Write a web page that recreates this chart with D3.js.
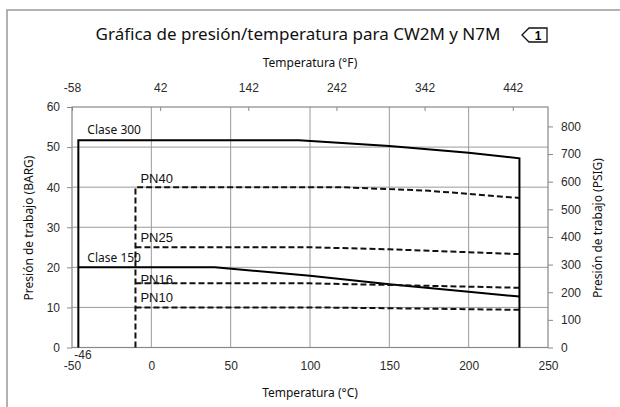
<!DOCTYPE html>
<html>
    <head>
        <meta charset="utf-8">
        <title>CW2M N7M</title>
        <script type="text/javascript" src="https://cdn.jsdelivr.net/npm/d3@7"></script>
        <style>
            body { margin: 0; background: #fff; }
        </style>
    </head>
    <body>
        <script type="text/javascript">
            // tick values
            var celsiusTicks = [-50, 0, 50, 100, 150, 200, 250];
            var fahrenheitTicks = [-58, 42, 142, 242, 342, 442];
            var bargTicks = [0, 10, 20, 30, 40, 50, 60];
            var psigTicks = [0, 100, 200, 300, 400, 500, 600, 700, 800];

            // series: [temp C, pressure barg]
            var clase300 = [[-46, 0], [-46, 51.7], [93, 51.7], [150, 50.3], [200, 48.6], [232, 47.2], [232, 0]];
            var clase150 = [[-46, 20], [40, 20], [100, 17.9], [150, 15.8], [200, 13.9], [232, 12.7]];
            var pn40 = [[-10, 0], [-10, 40], [120, 40], [175, 39.1], [232, 37.3]];
            var pn25 = [[-10, 25], [100, 25], [150, 24.5], [232, 23.3]];
            var pn16 = [[-10, 16], [100, 16], [150, 15.6], [232, 14.9]];
            var pn10 = [[-10, 10], [100, 10], [150, 9.8], [232, 9.4]];

            var W = 620, H = 407;
            var svg = d3.select("body").append("svg").attr("width", W).attr("height", H);
            svg.append("rect").attr("width", W).attr("height", H).attr("fill", "#fff");

            var x = d3.scaleLinear().domain([-50, 250]).range([72, 548]);
            var xF = d3.scaleLinear().domain([-58, 482]).range([72, 548]);
            var y = d3.scaleLinear().domain([0, 60]).range([347.5, 107]);
            var yP = d3.scaleLinear().domain([0, 60 * 14.5038]).range([347.5, 107]);
            var plain = function (d) { return String(d); };  // hyphen minus like the original

            // outer frame
            svg.append("path").attr("d", "M7," + H + " L7,10 L" + W + ",10")
                .attr("fill", "none").attr("stroke", "#999").attr("stroke-width", 1.5);

            // title + note tag
            svg.append("text").attr("x", 298).attr("y", 40).attr("text-anchor", "middle")
                .attr("font-family", "Noto Sans").attr("font-size", 17).attr("fill", "#111")
                .text("Gráfica de presión/temperatura para CW2M y N7M");
            svg.append("path").attr("d", "M522,35 L529,28 L547,28 L547,42 L529,42 Z")
                .attr("fill", "none").attr("stroke", "#111").attr("stroke-width", 1.3);
            svg.append("text").attr("x", 538).attr("y", 40).attr("text-anchor", "middle")
                .attr("font-family", "Liberation Sans").attr("font-weight", "bold").attr("font-size", 12)
                .text("1");

            // grid
            var grid = svg.append("g").attr("stroke", "#9a9a9a").attr("stroke-width", 1);
            grid.selectAll(".gx").data(celsiusTicks.slice(1, -1)).enter().append("line")
                .attr("x1", d => x(d)).attr("x2", d => x(d)).attr("y1", y(0)).attr("y2", y(60));
            grid.selectAll(".gy").data(bargTicks.slice(1, -1)).enter().append("line")
                .attr("x1", x(-50)).attr("x2", x(250)).attr("y1", d => y(d)).attr("y2", d => y(d));
            svg.append("rect").attr("x", x(-50)).attr("y", y(60))
                .attr("width", x(250) - x(-50)).attr("height", y(0) - y(60))
                .attr("fill", "none").attr("stroke", "#888").attr("stroke-width", 1.2);

            var tickFont = function (g) {
                g.select(".domain").remove();
                g.selectAll(".tick line").attr("stroke", "#888");
                g.selectAll(".tick text").attr("font-family", "Liberation Sans").attr("font-size", 12).attr("fill", "#2a2a2a");
            };

            svg.append("g").attr("transform", "translate(0," + y(0) + ")")
                .call(d3.axisBottom(x).tickValues(celsiusTicks).tickFormat(plain).tickSize(0).tickPadding(14))
                .call(tickFont);
            svg.append("g").attr("transform", "translate(0," + y(60) + ")")
                .call(d3.axisTop(xF).tickValues(fahrenheitTicks).tickFormat(plain).tickSizeInner(-4).tickSizeOuter(0).tickPadding(15))
                .call(tickFont);
            svg.append("g").attr("transform", "translate(" + x(-50) + ",0)")
                .call(d3.axisLeft(y).tickValues(bargTicks).tickFormat(plain).tickSize(5).tickPadding(7))
                .call(tickFont);
            svg.append("g").attr("transform", "translate(" + x(250) + ",0)")
                .call(d3.axisRight(yP).tickValues(psigTicks).tickFormat(plain).tickSize(5).tickPadding(8))
                .call(tickFont);

            // axis titles
            var titleFont = function (t) {
                t.attr("font-family", "Noto Sans").attr("font-size", 12).attr("fill", "#111").attr("text-anchor", "middle");
            };
            svg.append("text").attr("x", 310).attr("y", 67).call(titleFont).text("Temperatura (°F)");
            svg.append("text").attr("x", 310).attr("y", 397).call(titleFont).text("Temperatura (°C)");
            svg.append("text").attr("transform", "translate(33,228) rotate(-90)").call(titleFont).text("Presión de trabajo (BARG)");
            svg.append("text").attr("transform", "translate(602,228) rotate(-90)").call(titleFont).text("Presión de trabajo (PSIG)");

            // series lines
            var line = d3.line().x(d => x(d[0])).y(d => y(d[1]));
            [clase300, clase150].forEach(function (s) {
                svg.append("path").attr("d", line(s)).attr("fill", "none")
                    .attr("stroke", "#000").attr("stroke-width", 2);
            });
            [pn40, pn25, pn16, pn10].forEach(function (s) {
                svg.append("path").attr("d", line(s)).attr("fill", "none")
                    .attr("stroke", "#111").attr("stroke-width", 2).attr("stroke-dasharray", "6,3");
            });

            // series labels
            var seriesLabels = [
                { name: "Clase 300", s: clase300, i: 1, dx: 9, dy: -6, font: "Noto Sans", size: 12 },
                { name: "Clase 150", s: clase150, i: 0, dx: 9, dy: -5, font: "Noto Sans", size: 12 },
                { name: "PN40", s: pn40, i: 1, dx: 5, dy: -4, font: "Liberation Sans", size: 13 },
                { name: "PN25", s: pn25, i: 0, dx: 5, dy: -5, font: "Liberation Sans", size: 13 },
                { name: "PN16", s: pn16, i: 0, dx: 5, dy: 1, font: "Liberation Sans", size: 13 },
                { name: "PN10", s: pn10, i: 0, dx: 5, dy: -5, font: "Liberation Sans", size: 13 }
            ];
            seriesLabels.forEach(function (l) {
                svg.append("text").attr("x", x(l.s[l.i][0]) + l.dx).attr("y", y(l.s[l.i][1]) + l.dy)
                    .attr("font-family", l.font).attr("font-size", l.size).attr("fill", "#111")
                    .text(l.name);
            });
            svg.append("text").attr("x", x(clase300[0][0]) - 4).attr("y", y(0) + 11)
                .attr("font-family", "Liberation Sans").attr("font-size", 12).attr("fill", "#2a2a2a")
                .text(clase300[0][0]);
        </script>
    </body>
</html>
